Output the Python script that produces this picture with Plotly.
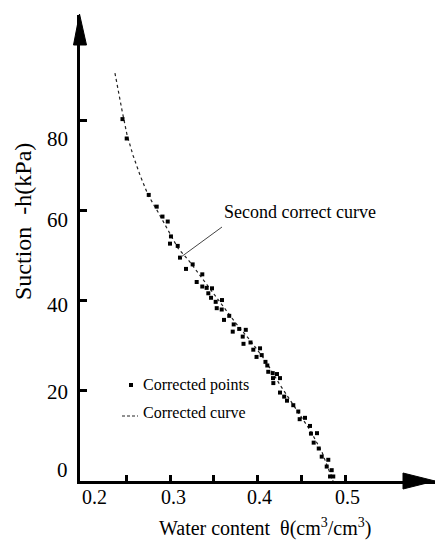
import plotly.graph_objects as go

# ---- data ----
theta_pts = [0.2457, 0.2505, 0.2757, 0.2848, 0.2914, 0.2974, 0.3011, 0.3000, 0.3088, 0.3114,
             0.3183, 0.3259, 0.3369, 0.3305, 0.3369, 0.3419, 0.3480, 0.3438, 0.3469, 0.3522,
             0.3594, 0.3534, 0.3591, 0.3677, 0.3617, 0.3728, 0.3791, 0.3717, 0.3866, 0.3831,
             0.3920, 0.3840, 0.3952, 0.4029, 0.4048, 0.3989, 0.4091, 0.4112, 0.4123, 0.4174,
             0.4223, 0.4257, 0.4177, 0.4181, 0.4257, 0.4305, 0.4337, 0.4409, 0.4466, 0.4482,
             0.4543, 0.4600, 0.4611, 0.4680, 0.4642, 0.4700, 0.4734, 0.4809, 0.4791, 0.4848,
             0.4829, 0.4866]
suction_pts = [80.2, 75.9, 63.4, 60.8, 58.6, 57.5, 54.2, 52.6, 52.1, 49.5,
               47.0, 48.0, 45.8, 44.1, 43.1, 42.8, 42.7, 41.6, 40.6, 39.7,
               40.1, 38.3, 38.0, 36.6, 35.7, 34.7, 33.7, 33.1, 33.5, 32.0,
               30.7, 30.4, 29.1, 29.4, 27.9, 27.5, 26.4, 25.6, 24.2, 23.9,
               23.7, 22.8, 22.8, 21.7, 19.6, 18.7, 17.8, 16.8, 15.4, 13.7,
               14.0, 12.2, 10.5, 10.6, 8.5, 7.2, 5.4, 4.7, 3.2, 2.4,
               1.0, 1.0]
theta_curve = [0.2371, 0.2406, 0.2451, 0.2509, 0.2577, 0.2657, 0.2749, 0.2863, 0.2977, 0.3091,
               0.3229, 0.3400, 0.3571, 0.3743, 0.3914, 0.4086, 0.4257, 0.4429, 0.4600, 0.4737,
               0.4863]
suction_curve = [90.4, 86.6, 82.2, 76.7, 72.2, 67.8, 63.4, 59.6, 55.6, 51.6,
                 48.5, 44.1, 39.7, 35.2, 31.2, 26.8, 21.3, 16.2, 11.3, 6.4,
                 0.0]
y_tick_text = ["0", "20", "40", "60", "80"]
x_tick_text = ["0.2", "0.3", "0.4", "0.5"]
x_minor_ticks = [0.25, 0.3, 0.35, 0.4, 0.45, 0.5]
y_ticks = [20, 40, 60, 80]

# ---- layout geometry ----
W, H = 435, 540
L, R, T, B = 80, 435, 15, 481      # plot area in pixels
FONT = "Liberation Serif"


def px(x):
    return (x - L) / (R - L)


def py(y):
    return (B - y) / (B - T)


fig = go.Figure()
fig.add_trace(go.Scatter(x=theta_curve, y=suction_curve, mode="lines",
                         line=dict(color="#222", width=1.2, dash="dot"),
                         showlegend=False, hoverinfo="skip"))
fig.add_trace(go.Scatter(x=theta_pts, y=suction_pts, mode="markers",
                         marker=dict(symbol="square", size=4, color="black"),
                         showlegend=False))

annotations = []
y_lab_pos = {"0": 470, "20": 392, "40": 305, "60": 220, "80": 139}
for t in y_tick_text:
    annotations.append(dict(x=px(70), y=py(y_lab_pos[t]), xref="paper", yref="paper",
                            text=t, showarrow=False, xanchor="right", yanchor="middle",
                            font=dict(family=FONT, size=21, color="black")))
x_lab_pos = {"0.2": 94, "0.3": 173, "0.4": 259, "0.5": 347}
for t in x_tick_text:
    annotations.append(dict(x=px(x_lab_pos[t]), y=py(497), xref="paper", yref="paper",
                            text=t, showarrow=False, xanchor="center", yanchor="middle",
                            font=dict(family=FONT, size=20, color="black")))
annotations.append(dict(x=px(265), y=py(527), xref="paper", yref="paper",
                        text="Water content  θ(cm<sup>3</sup>/cm<sup>3</sup>)", showarrow=False,
                        xanchor="center", yanchor="middle",
                        font=dict(family=FONT, size=20, color="black")))
annotations.append(dict(x=px(23), y=py(222), xref="paper", yref="paper",
                        text="Suction  -h(kPa)", showarrow=False, textangle=-90,
                        xanchor="center", yanchor="middle",
                        font=dict(family=FONT, size=24, color="black")))
annotations.append(dict(x=px(222), y=py(212), xref="paper", yref="paper",
                        text="Second correct curve", showarrow=False,
                        xanchor="left", yanchor="middle",
                        font=dict(family=FONT, size=18, color="black")))
annotations.append(dict(x=px(141), y=py(385), xref="paper", yref="paper",
                        text="Corrected points", showarrow=False,
                        xanchor="left", yanchor="middle",
                        font=dict(family=FONT, size=16, color="black")))
annotations.append(dict(x=px(141), y=py(413), xref="paper", yref="paper",
                        text="Corrected curve", showarrow=False,
                        xanchor="left", yanchor="middle",
                        font=dict(family=FONT, size=16, color="black")))

shapes = []
shapes.append(dict(type="line", xref="paper", yref="paper",
                   x0=px(181), y0=py(257), x1=px(222), y1=py(227),
                   line=dict(color="#444", width=1)))
shapes.append(dict(type="rect", xref="paper", yref="paper",
                   x0=px(129), y0=py(383), x1=px(133), y1=py(387),
                   fillcolor="black", line=dict(width=0)))
shapes.append(dict(type="line", xref="paper", yref="paper",
                   x0=px(122), y0=py(416), x1=px(138), y1=py(416),
                   line=dict(color="#222", width=1, dash="3px,2px")))
shapes.append(dict(type="path", xref="paper", yref="paper",
                   path=f"M {px(73.5)},{py(45)} L {px(79.5)},{py(14)} L {px(86.5)},{py(45)} Z",
                   fillcolor="black", line=dict(color="black", width=1)))
shapes.append(dict(type="path", xref="paper", yref="paper",
                   path=f"M {px(403)},{py(473)} L {px(435)},{py(481)} L {px(403)},{py(489)} Z",
                   fillcolor="black", line=dict(color="black", width=1)))

x0 = 0.3 + (L - 170) / 875
x1 = 0.3 + (R - 170) / 875
y1 = (B - T) / 4.5125

fig.update_layout(
    width=W, height=H,
    margin=dict(l=L, r=W - R, t=T, b=H - B, pad=0),
    paper_bgcolor="white", plot_bgcolor="white",
    showlegend=False,
    font=dict(family=FONT, color="black"),
    xaxis=dict(range=[x0, x1], showgrid=False, zeroline=False, showline=True,
               linecolor="black", linewidth=3, ticks="inside", ticklen=6, tickwidth=3,
               tickcolor="black", tickvals=x_minor_ticks, showticklabels=False),
    yaxis=dict(range=[0, y1], showgrid=False, zeroline=False, showline=True,
               linecolor="black", linewidth=3, ticks="inside", ticklen=7, tickwidth=3,
               tickcolor="black", tickvals=y_ticks, showticklabels=False),
    annotations=annotations,
    shapes=shapes,
)

fig.write_html("out.html")
